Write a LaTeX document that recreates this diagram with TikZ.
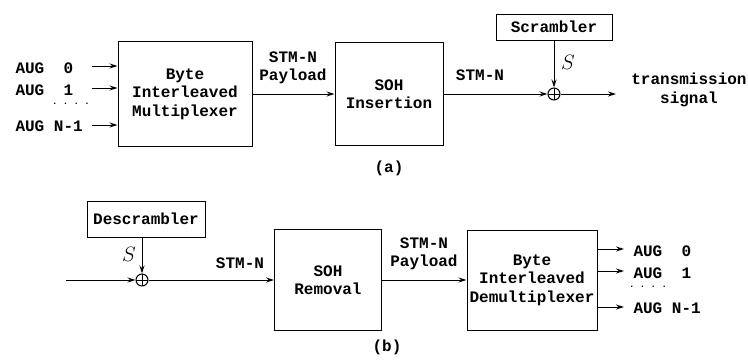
\documentclass[tikz,border=0pt]{standalone}
\usepackage{fontspec}
\setmonofont{Liberation Mono}
\usetikzlibrary{positioning,arrows.meta}

\begin{document}
\begin{tikzpicture}[x=1pt, y=-1pt,
        font=\ttfamily\bfseries\fontsize{16}{18.5}\selectfont,
        block/.style={draw, line width=1pt, align=center, inner sep=0pt},
        adder/.style={circle, draw, line width=1pt, minimum size=12pt, inner sep=0pt,
            path picture={\draw[line width=1pt]
                (path picture bounding box.north) -- (path picture bounding box.south)
                (path picture bounding box.west) -- (path picture bounding box.east);}},
        arrow/.style={-{Stealth[length=8pt, width=5pt]}, line width=1pt},
        sym/.style={font=\fontsize{21}{21}\selectfont}
    ]
        \useasboundingbox (0,0) rectangle (748,364);

        % (a) transmitter
        \node[block, minimum width=134pt, minimum height=105pt] (mux) at (185,94) {Byte\\Interleaved\\Multiplexer};
        \node[block, minimum width=108pt, minimum height=103pt] (ins) at (389,94) {SOH\\Insertion};
        \node[block, minimum width=116pt, minimum height=26pt] (scr) at (554,27) {Scrambler};
        \node[adder] (adda) at (554,94) {};
        \coordinate (txout) at (616,94);

        \coordinate (in0) at (92,66);
        \coordinate (in1) at (92,88);
        \coordinate (inN) at (92,125);
        \node[anchor=west] (aug0) at (12,68) {AUG~~0};
        \node[anchor=west] (aug1) at (12,90) {AUG~~1};
        \node[anchor=west] (augN) at (12,126) {AUG~N-1};
        \node[font=\ttfamily\bfseries\fontsize{9}{9}\selectfont] (dotsa) at (71,104) {.~.~.~.};

        \draw[arrow] (in0) -- (in0 -| mux.west);
        \draw[arrow] (in1) -- (in1 -| mux.west);
        \draw[arrow] (inN) -- (inN -| mux.west);
        \draw[arrow] (mux) -- (ins);
        \draw[arrow] (ins) -- (adda);
        \draw[arrow] (scr) -- (adda);
        \draw[arrow] (adda) -- (txout);

        \node[align=center] (paya) at (293,68) {STM-N\\Payload};
        \node (stma) at (480,75) {STM-N};
        \node[sym] (sa) at (568,62) {$S$};
        \node[align=center] (txsig) at (689,90) {transmission\\signal};
        \node (capa) at (389,168) {(a)};

        % (b) receiver
        \node[block, minimum width=118pt, minimum height=36pt] (desc) at (146,219) {Descrambler};
        \node[adder] (addb) at (142,280) {};
        \coordinate (rxin) at (66,280);
        \node[block, minimum width=107pt, minimum height=101pt] (rem) at (328,280) {SOH\\Removal};
        \node[block, minimum width=130pt, minimum height=100pt] (demux) at (532,280) {Byte\\Interleaved\\Demultiplexer};

        \coordinate (out0) at (624,249);
        \coordinate (out1) at (624,271);
        \coordinate (outN) at (624,307);
        \node[anchor=west] (raug0) at (630,251) {AUG~~0};
        \node[anchor=west] (raug1) at (630,273) {AUG~~1};
        \node[anchor=west] (raugN) at (630,308) {AUG~N-1};
        \node[font=\ttfamily\bfseries\fontsize{9}{9}\selectfont] (dotsb) at (648,287) {.~.~.~.};

        \draw[arrow] (rxin) -- (addb);
        \draw[arrow] (desc.south -| addb) -- (addb);
        \draw[arrow] (addb) -- (rem);
        \draw[arrow] (rem) -- (demux);
        \draw[arrow] (out0 -| demux.east) -- (out0);
        \draw[arrow] (out1 -| demux.east) -- (out1);
        \draw[arrow] (outN -| demux.east) -- (outN);

        \node[sym] (sb) at (129,254) {$S$};
        \node (stmb) at (240,263) {STM-N};
        \node[align=center] (payb) at (424,254) {STM-N\\Payload};
        \node (capb) at (387,347) {(b)};
    \end{tikzpicture}
\end{document}
